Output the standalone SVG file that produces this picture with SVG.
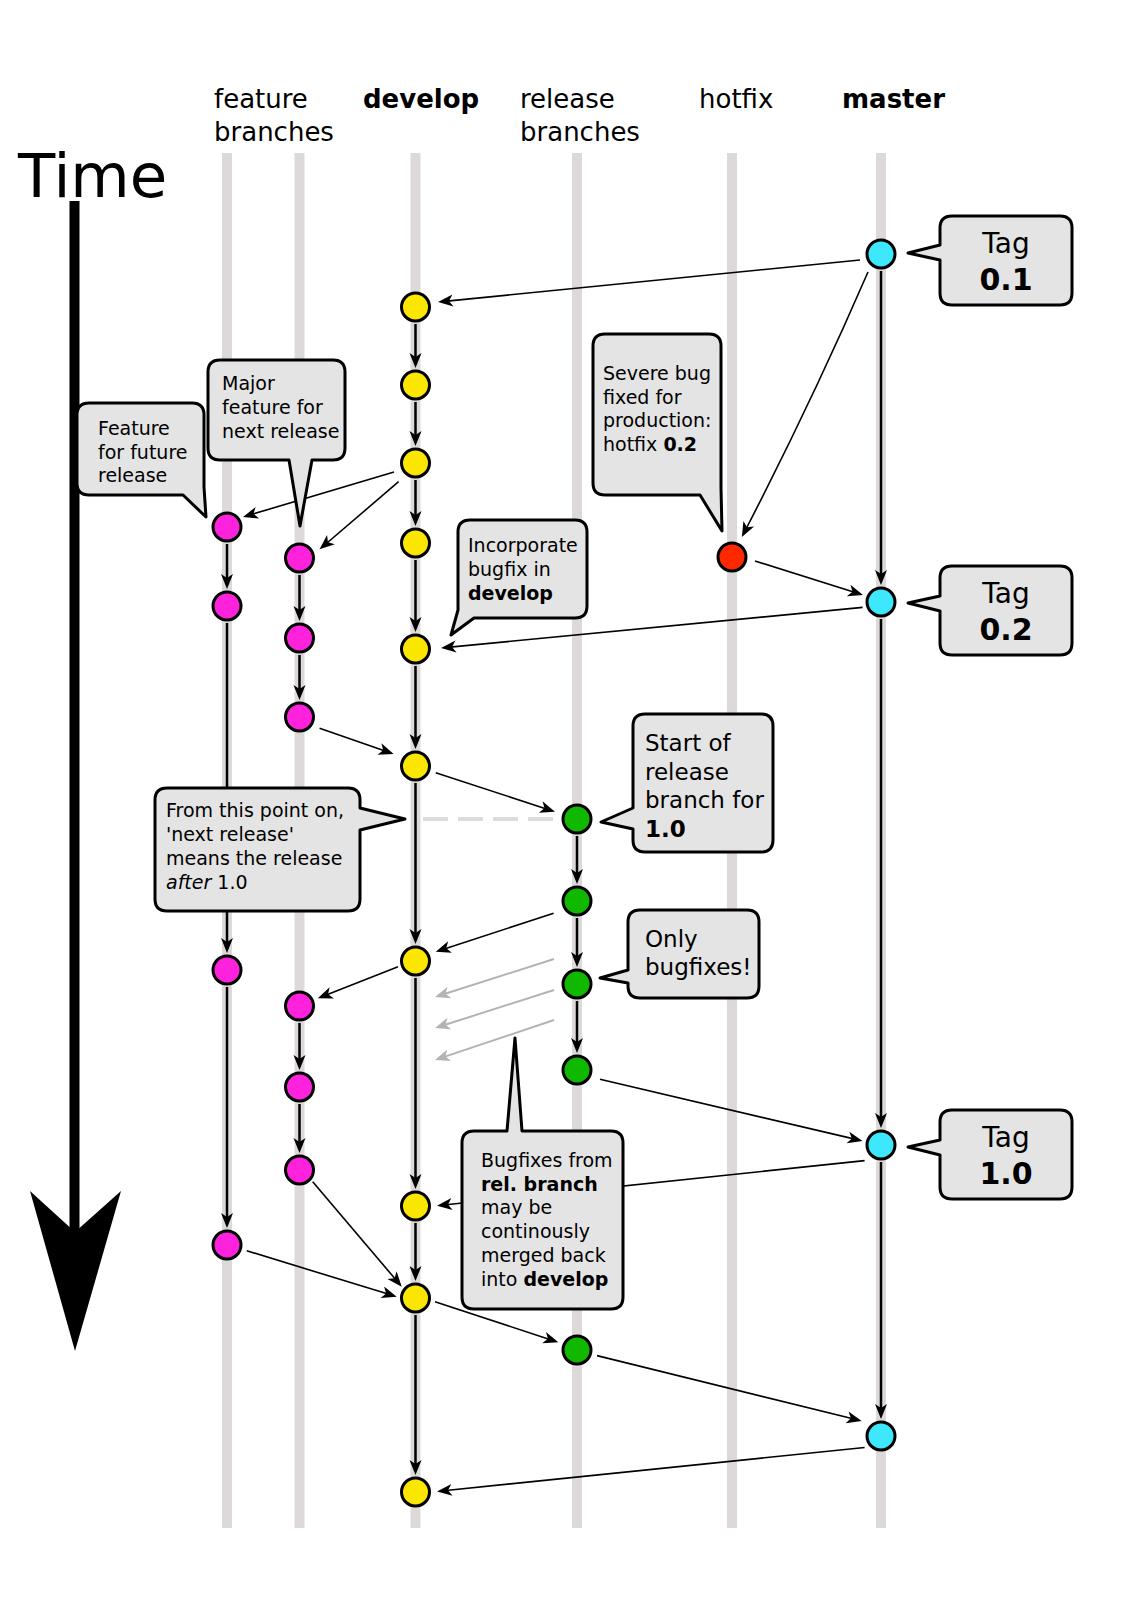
<svg xmlns="http://www.w3.org/2000/svg" width="1129" height="1601" viewBox="0 0 1129 1601">
<style>
.lane{stroke:#ddd9d9;stroke-width:10;fill:none}
.v{stroke:#000;stroke-width:2.5;fill:none;marker-end:url(#ah)}
.d{stroke:#000;stroke-width:1.6;fill:none;marker-end:url(#ah)}
.g{stroke:#b3b3b3;stroke-width:2;fill:none;marker-end:url(#ahg)}
.n{stroke:#000;stroke-width:3}
.dev{fill:#fbe600}.feat{fill:#ff22dd}.rel{fill:#10b800}.hot{fill:#ff2800}.mas{fill:#3ee8fc}
.co{fill:#e4e4e4;stroke:#000;stroke-width:3;stroke-linejoin:round}
text{font-family:"DejaVu Sans","Liberation Sans",sans-serif;fill:#000}
.hd{font-size:26px}
.s{font-size:19px}
.m{font-size:23px}
.tg{font-size:28px;text-anchor:middle}
.tv{font-size:30px;font-weight:bold;text-anchor:middle}
.b{font-weight:bold}
</style>
<defs>
<marker id="ah" viewBox="-7 -7 17 14" refX="0" refY="0" markerWidth="17" markerHeight="14" markerUnits="userSpaceOnUse" orient="auto"><path d="M9,0 L-6,-6 L-2,0 L-6,6 Z" fill="#000"/></marker>
<marker id="ahg" viewBox="-7 -7 17 14" refX="0" refY="0" markerWidth="17" markerHeight="14" markerUnits="userSpaceOnUse" orient="auto"><path d="M9,0 L-6,-6 L-2,0 L-6,6 Z" fill="#b3b3b3"/></marker>
</defs>
<rect width="1129" height="1601" fill="#fff"/>
<g id="headers">
<text class="hd" x="214" y="108">feature</text>
<text class="hd" x="214" y="141">branches</text>
<text class="hd b" x="363" y="108">develop</text>
<text class="hd" x="520" y="108">release</text>
<text class="hd" x="520" y="141">branches</text>
<text class="hd" x="699" y="108">hotfix</text>
<text class="hd b" x="842" y="108">master</text>
</g>
<g id="time">
<text x="18" y="197" font-size="61">Time</text>
<line x1="74.5" y1="201" x2="74.5" y2="1240" stroke="#000" stroke-width="10"/>
<polygon points="30,1191 75,1232 121,1191 75,1351" fill="#000"/>
</g>
<g id="lanes">
<line class="lane" x1="227" y1="153" x2="227" y2="1528"/>
<line class="lane" x1="299.5" y1="153" x2="299.5" y2="1528"/>
<line class="lane" x1="415.5" y1="153" x2="415.5" y2="1528"/>
<line class="lane" x1="577" y1="153" x2="577" y2="1528"/>
<line class="lane" x1="732" y1="153" x2="732" y2="1528"/>
<line class="lane" x1="881" y1="153" x2="881" y2="1528"/>
</g>
<g id="connectors">
<line x1="423" y1="819" x2="559" y2="819" stroke="#dcdcdc" stroke-width="4" stroke-dasharray="25 10"/>
<path class="v" d="M415.5,324V359"/>
<path class="v" d="M415.5,402V437"/>
<path class="v" d="M415.5,480V517"/>
<path class="v" d="M415.5,560V623"/>
<path class="v" d="M415.5,666V740"/>
<path class="v" d="M415.5,783V935"/>
<path class="v" d="M415.5,978V1180"/>
<path class="v" d="M415.5,1223V1272"/>
<path class="v" d="M415.5,1315V1466"/>
<path class="v" d="M227,544V580"/>
<path class="v" d="M227,623V944"/>
<path class="v" d="M227,987V1219"/>
<path class="v" d="M299.5,575V612"/>
<path class="v" d="M299.5,655V691"/>
<path class="v" d="M299.5,1023V1061"/>
<path class="v" d="M299.5,1104V1144"/>
<path class="v" d="M577,836V875"/>
<path class="v" d="M577,918V958"/>
<path class="v" d="M577,1001V1044"/>
<path class="v" d="M881,271V576"/>
<path class="v" d="M881,619V1119"/>
<path class="v" d="M881,1162V1410"/>
<path class="d" d="M860,260L447,301.1"/>
<path class="d" d="M394,472L251.6,514.4"/>
<path class="d" d="M398.6,481.7L326.4,543.5"/>
<path class="d" d="M868,272Q813,399 746,529"/>
<path class="d" d="M755,561L854.4,592.3"/>
<path class="d" d="M862.6,607.4L450,647.1"/>
<path class="d" d="M319.6,728.3L385.1,751"/>
<path class="d" d="M435.7,772.7L546.4,808.9"/>
<path class="d" d="M553.6,913.3L444.3,948.9"/>
<path class="d" d="M398,966.7L326.2,995"/>
<path class="g" d="M554,959L443.6,994.3"/>
<path class="g" d="M554,990L443.6,1025.3"/>
<path class="g" d="M554,1020L443.5,1057.1"/>
<path class="d" d="M600,1079.3L853.8,1138.9"/>
<path class="d" d="M864.6,1160.6L446,1204.7"/>
<path class="d" d="M312.7,1181.7L395.9,1279.8"/>
<path class="d" d="M246.7,1250.7L388.1,1294.1"/>
<path class="d" d="M435,1301.7L549.8,1339.5"/>
<path class="d" d="M597,1355.6L852.9,1418.8"/>
<path class="d" d="M864.6,1447.5L446,1490.5"/>
</g>
<g id="master-nodes">
<circle id="m1" class="n mas" cx="881" cy="254" r="14"/>
<circle id="m2" class="n mas" cx="881" cy="602" r="14"/>
<circle id="m3" class="n mas" cx="881" cy="1145" r="14"/>
<circle id="m4" class="n mas" cx="881" cy="1436" r="14"/>
</g>
<g id="develop-nodes">
<circle id="d1" class="n dev" cx="415.5" cy="307" r="14"/>
<circle id="d2" class="n dev" cx="415.5" cy="385" r="14"/>
<circle id="d3" class="n dev" cx="415.5" cy="463" r="14"/>
<circle id="d4" class="n dev" cx="415.5" cy="543" r="14"/>
<circle id="d5" class="n dev" cx="415.5" cy="649" r="14"/>
<circle id="d6" class="n dev" cx="415.5" cy="766" r="14"/>
<circle id="d7" class="n dev" cx="415.5" cy="961" r="14"/>
<circle id="d8" class="n dev" cx="415.5" cy="1206" r="14"/>
<circle id="d9" class="n dev" cx="415.5" cy="1298" r="14"/>
<circle id="d10" class="n dev" cx="415.5" cy="1492" r="14"/>
</g>
<g id="release-nodes">
<circle id="r1" class="n rel" cx="577" cy="819" r="14"/>
<circle id="r2" class="n rel" cx="577" cy="901" r="14"/>
<circle id="r3" class="n rel" cx="577" cy="984" r="14"/>
<circle id="r4" class="n rel" cx="577" cy="1070" r="14"/>
<circle id="r5" class="n rel" cx="577" cy="1350" r="14"/>
</g>
<g id="hotfix-nodes">
<circle id="h1" class="n hot" cx="732" cy="557" r="14"/>
</g>
<g id="feature-nodes">
<circle id="f1a" class="n feat" cx="227" cy="527" r="14"/>
<circle id="f1b" class="n feat" cx="227" cy="606" r="14"/>
<circle id="f1c" class="n feat" cx="227" cy="970" r="14"/>
<circle id="f1d" class="n feat" cx="227" cy="1245" r="14"/>
<circle id="f2a" class="n feat" cx="299.5" cy="558" r="14"/>
<circle id="f2b" class="n feat" cx="299.5" cy="638" r="14"/>
<circle id="f2c" class="n feat" cx="299.5" cy="717" r="14"/>
<circle id="f2d" class="n feat" cx="299.5" cy="1006" r="14"/>
<circle id="f2e" class="n feat" cx="299.5" cy="1087" r="14"/>
<circle id="f2f" class="n feat" cx="299.5" cy="1170" r="14"/>
</g>
<g id="tag01">
<path class="co" d="M952,216H1060Q1072,216 1072,228V293Q1072,305 1060,305H952Q940,305 940,293V260L908,253L940,245V228Q940,216 952,216Z"/>
<text class="tg" x="1006" y="253">Tag</text>
<text class="tv" x="1006" y="290">0.1</text>
</g>
<g id="tag02">
<path class="co" d="M952,566H1060Q1072,566 1072,578V643Q1072,655 1060,655H952Q940,655 940,643V611L908,603L940,596V578Q940,566 952,566Z"/>
<text class="tg" x="1006" y="603">Tag</text>
<text class="tv" x="1006" y="640">0.2</text>
</g>
<g id="tag10">
<path class="co" d="M952,1110H1060Q1072,1110 1072,1122V1187Q1072,1199 1060,1199H952Q940,1199 940,1187V1155L908,1147L940,1140V1122Q940,1110 952,1110Z"/>
<text class="tg" x="1006" y="1147">Tag</text>
<text class="tv" x="1006" y="1184">1.0</text>
</g>
<g id="note-severe">
<path class="co" d="M605,334H709Q721,334 721,346V488L722,531L700,495H605Q593,495 593,483V346Q593,334 605,334Z"/>
<text class="s" x="603" y="380">Severe bug</text>
<text class="s" x="603" y="403.5">fixed for</text>
<text class="s" x="603" y="427">production:</text>
<text class="s" x="603" y="451">hotfix <tspan class="b">0.2</tspan></text>
</g>
<g id="note-major">
<path class="co" d="M220,360H333Q345,360 345,372V448Q345,460 333,460H312L300,526L289,460H220Q208,460 208,448V372Q208,360 220,360Z"/>
<text class="s" x="222" y="390">Major</text>
<text class="s" x="222" y="414">feature for</text>
<text class="s" x="222" y="437.5">next release</text>
</g>
<g id="note-future">
<path class="co" d="M89,403H192Q204,403 204,415V487L206,517L183,495H89Q77,495 77,483V415Q77,403 89,403Z"/>
<text class="s" x="98" y="435">Feature</text>
<text class="s" x="98" y="458.5">for future</text>
<text class="s" x="98" y="482">release</text>
</g>
<g id="note-incorporate">
<path class="co" d="M470,520H575Q587,520 587,532V606Q587,618 575,618H474L451,635L458,610V532Q458,520 470,520Z"/>
<text class="s" x="468" y="552">Incorporate</text>
<text class="s" x="468" y="576">bugfix in</text>
<text class="s b" x="468" y="599.5">develop</text>
</g>
<g id="note-start">
<path class="co" d="M645,714H761Q773,714 773,726V840Q773,852 761,852H645Q633,852 633,840V829L601,822L633,808V726Q633,714 645,714Z"/>
<text class="m" x="645" y="751">Start of</text>
<text class="m" x="645" y="779.5">release</text>
<text class="m" x="645" y="808">branch for</text>
<text class="m b" x="645" y="837">1.0</text>
</g>
<g id="note-fromhere">
<path class="co" d="M167,788H348Q360,788 360,800V808L405,819L360,830V899Q360,911 348,911H167Q155,911 155,899V800Q155,788 167,788Z"/>
<text class="s" x="166" y="817">From this point on,</text>
<text class="s" x="166" y="840.5">'next release'</text>
<text class="s" x="166" y="864.5">means the release</text>
<text class="s" x="166" y="888.5"><tspan font-style="italic">after</tspan> 1.0</text>
</g>
<g id="note-only">
<path class="co" d="M640,910H747Q759,910 759,922V986Q759,998 747,998H640Q628,998 628,986V983L600,978L628,970V922Q628,910 640,910Z"/>
<text class="m" x="645" y="947">Only</text>
<text class="m" x="645" y="975">bugfixes!</text>
</g>
<g id="note-bugfixes">
<path class="co" d="M474,1131H507L515,1038L522,1131H611Q623,1131 623,1143V1297Q623,1309 611,1309H474Q462,1309 462,1297V1143Q462,1131 474,1131Z"/>
<text class="s" x="481" y="1167">Bugfixes from</text>
<text class="s b" x="481" y="1190.7">rel. branch</text>
<text class="s" x="481" y="1214.3">may be</text>
<text class="s" x="481" y="1238">continously</text>
<text class="s" x="481" y="1261.7">merged back</text>
<text class="s" x="481" y="1285.5">into <tspan class="b">develop</tspan></text>
</g>
</svg>
